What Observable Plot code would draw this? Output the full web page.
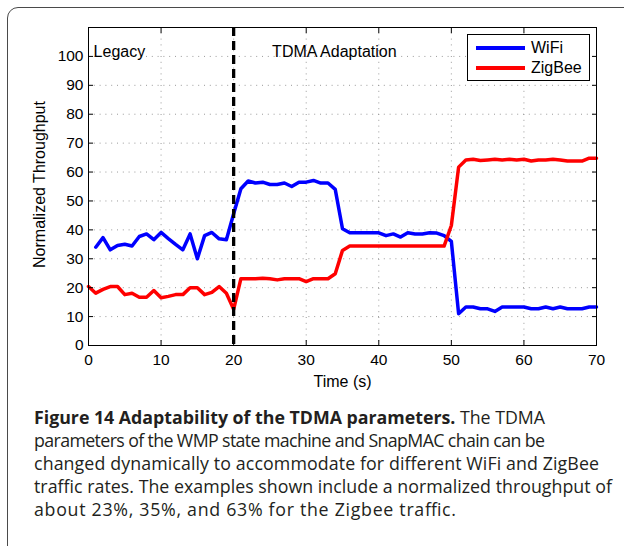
<!DOCTYPE html>
<html>
<head>
<meta charset="utf-8">
<script src="https://cdn.jsdelivr.net/npm/d3@7"></script>
<script src="https://cdn.jsdelivr.net/npm/@observablehq/plot@0.6"></script>
<style>
html, body { margin: 0; padding: 0; background: #fff; width: 624px; height: 546px; overflow: hidden; }
#box { position: absolute; left: 7px; top: 7px; width: 700px; height: 560px; border: 1.3px solid #4a4a4a; border-radius: 11px; box-sizing: border-box; }
#chart { position: absolute; left: 0; top: 0; }
#legend { position: absolute; left: 467px; top: 34px; width: 123px; height: 47px; border: 1px solid #000; background: #fff; box-sizing: border-box; font-family: "Liberation Sans", Arial, sans-serif; font-size: 16px; color: #000; }
.row { position: absolute; left: 8px; height: 20px; display: flex; align-items: center; }
.sw { width: 49px; height: 4px; margin-right: 6px; }
#caption { position: absolute; left: 0; top: 0; }
</style>
</head>
<body>
<div id="box"></div>
<div id="chart"></div>
<div id="legend"></div>
<svg id="caption" width="624" height="546"></svg>
<script>
// ---- data ----
const seriesNames = ["WiFi", "ZigBee"];
const seriesColors = ["#0000ff", "#ff0000"];

const wifiT = [1,2,3,4,5,6,7,8,9,10,11,12,13,14,15,16,17,18,19,20,21,22,23,24,25,26,27,28,29,30,31,32,33,34,35,36,37,38,39,40,41,42,43,44,45,46,47,48,49,50,51,52,53,54,55,56,57,58,59,60,61,62,63,64,65,66,67,68,69,70];
const wifiV = [34,37.3,33.1,34.6,35,34.4,37.7,38.6,36.6,39.1,37,35,33.1,38.6,30,38,39.1,36.9,36.6,45.6,54.2,56.9,56.2,56.5,55.7,55.7,56.2,55,56.5,56.5,57.1,56.2,56.2,54,40.4,39,39,39,39,39,38,38.6,37.5,39,38.6,38.6,39,38.9,38,36,11,13.3,13.3,12.7,12.7,11.8,13.3,13.3,13.3,13.3,12.7,12.7,13.3,12.7,13.3,12.7,12.7,12.7,13.3,13.3];

const zigT = [0,1,2,3,4,5,6,7,8,9,10,11,12,13,14,15,16,17,18,19,20,21,22,23,24,25,26,27,28,29,30,31,32,33,34,35,36,37,38,39,40,41,42,43,44,45,46,47,48,49,50,51,52,53,54,55,56,57,58,59,60,61,62,63,64,65,66,67,68,69,70];
const zigV = [20.4,18.1,19.4,20.4,20.4,17.6,18.1,16.7,16.7,19,16.5,17,17.6,17.6,20,20,17.6,18.4,20.4,18.1,12.5,23.1,23.1,23.1,23.3,23.1,22.7,23.1,23.1,23.1,22.1,23.1,23.1,23.1,24.8,32.9,34.4,34.4,34.4,34.4,34.4,34.4,34.4,34.4,34.4,34.4,34.4,34.4,34.4,34.4,41.5,61.7,64.2,64.4,64,64.2,64.4,64.2,64.4,64.2,64.4,63.8,64.2,64.2,64.4,64.2,63.8,63.8,63.8,64.8,64.8];

const dividerTime = [20];
const annText = ["Legacy", "TDMA Adaptation"];
const annX = [0.7, 25.3];
const annY = [101.7, 101.7];

const xTicks = [0,10,20,30,40,50,60,70];
const yTicks = [0,10,20,30,40,50,60,70,80,90,100];
const xLabel = "Time (s)";
const yLabel = "Normalized Throughput";

const captionBold = "Figure 14 Adaptability of the TDMA parameters.";
const captionLines = [
  " The TDMA",
  "parameters of the WMP state machine and SnapMAC chain can be",
  "changed dynamically to accommodate for different WiFi and ZigBee",
  "traffic rates. The examples shown include a normalized throughput of",
  "about 23%, 35%, and 63% for the Zigbee traffic."
];
const captionWidths = [511, 511, 565, 578, 422];

// ---- chart ----
const gridStyle = { stroke: "#9a9a9a", strokeOpacity: 1, strokeWidth: 1, strokeDasharray: "1,4.8" };
const chart = Plot.plot({
  width: 624,
  height: 400,
  marginLeft: 88,
  marginRight: 28,
  marginTop: 27,
  marginBottom: 55,
  x: { domain: [0, 70] },
  y: { domain: [0, 110] },
  style: { fontFamily: "'Liberation Sans', Arial, sans-serif", fontSize: "15.5px", color: "#000", background: "transparent", overflow: "visible" },
  marks: [
    Plot.gridX(xTicks, gridStyle),
    Plot.gridY(yTicks, gridStyle),
    Plot.line(wifiV, { x: wifiT, y: wifiV, stroke: seriesColors[0], strokeWidth: 3.5, strokeLinejoin: "round" }),
    Plot.line(zigV, { x: zigT, y: zigV, stroke: seriesColors[1], strokeWidth: 3.5, strokeLinejoin: "round" }),
    Plot.ruleX(dividerTime, { stroke: "#000", strokeWidth: 3.3, strokeDasharray: "9,5" }),
    Plot.text(annText, { x: annX, y: annY, text: d => d, textAnchor: "start", fontSize: 16, fill: "#000" }),
    Plot.frame({ stroke: "#000", strokeWidth: 1 }),
    Plot.axisX(xTicks, { anchor: "bottom", tickSize: -5, tickPadding: 13, label: null }),
    Plot.axisX(xTicks, { anchor: "top", tickSize: -5, tickFormat: () => "", label: null }),
    Plot.axisY(yTicks, { anchor: "left", tickSize: -5, tickPadding: 10, label: null }),
    Plot.axisY(yTicks, { anchor: "right", tickSize: -5, tickFormat: () => "", label: null }),
    Plot.text([xLabel], { frameAnchor: "bottom", lineAnchor: "middle", textAnchor: "middle", dy: 36.5, fontSize: 16, fill: "#000" }),
    Plot.text([yLabel], { frameAnchor: "left", textAnchor: "middle", lineAnchor: "middle", rotate: -90, dx: -49, dy: -2, fontSize: 16, fill: "#000" })
  ]
});
document.getElementById("chart").appendChild(chart);

// ---- legend ----
const legend = document.getElementById("legend");
seriesNames.forEach((name, i) => {
  const row = document.createElement("div");
  row.className = "row";
  row.style.top = (3 + i * 20) + "px";
  const sw = document.createElement("div");
  sw.className = "sw";
  sw.style.background = seriesColors[i];
  const lab = document.createElement("span");
  lab.textContent = name;
  row.appendChild(sw);
  row.appendChild(lab);
  legend.appendChild(row);
});

// ---- caption ----
const cap = d3.select("#caption");
const baselines = [423.5, 446.5, 469.5, 492.5, 515.5];
captionLines.forEach((line, i) => {
  const t = cap.append("text")
    .attr("x", 34)
    .attr("y", baselines[i])
    .attr("font-family", "'Open Sans', 'Noto Sans', sans-serif")
    .attr("font-size", 17.8)
    .attr("fill", "#231f20")
    .attr("textLength", captionWidths[i])
    .attr("lengthAdjust", "spacing");
  if (i === 0) {
    t.append("tspan").attr("font-weight", 700).text(captionBold);
  }
  t.append("tspan").style("white-space", "pre").text(line);
});
</script>
</body>
</html>
